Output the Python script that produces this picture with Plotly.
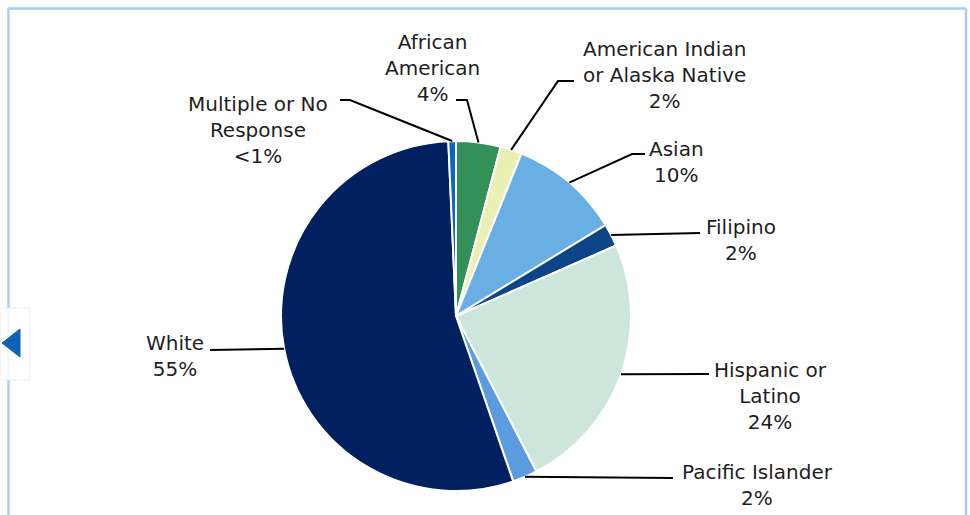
import math
import plotly.graph_objects as go

# ---- data ----
categories = ["African American", "American Indian or Alaska Native", "Asian", "Filipino",
              "Hispanic or Latino", "Pacific Islander", "White", "Multiple or No Response"]
label_text = ["African<br>American", "American Indian<br>or Alaska Native", "Asian", "Filipino",
              "Hispanic or<br>Latino", "Pacific Islander", "White", "Multiple or No<br>Response"]
values = [4.1, 2.0, 10.2, 2.1, 24.0, 2.3, 54.6, 0.7]
colors = ["#339157", "#eaf0b4", "#6aafe3", "#0b4587", "#cce6dc", "#5b9be0", "#002060", "#0a66c2"]

W, H = 970, 515
CX, CY, R = 456, 316, 175

# label layout (pixel positions: text centre, knee point, tail point)
text_pos = [(432, 68), (664, 75), (676, 162), (741, 240), (770, 396), (757, 485), (175, 356), (258, 130)]
knee_pos = [(467, 100), (558, 81), (632, 154), (700, 233), (709, 374), (673, 478), (210, 350), (350, 100)]
tail_pos = [(456, 100), (574, 81), (645, 154), (700, 233), (709, 374), (673, 478), (210, 350), (340, 100)]


def px(x):
    return x / W


def py(y):
    return 1 - y / H


def pct_label(v, total):
    p = v / total * 100
    return "<1%" if p < 1 else f"{round(p)}%"


total = sum(values)

fig = go.Figure()
fig.add_trace(go.Pie(
    labels=categories,
    values=values,
    sort=False,
    direction="clockwise",
    rotation=0,
    marker=dict(colors=colors, line=dict(color="white", width=2)),
    textinfo="none",
    hoverinfo="skip",
    showlegend=False,
    domain=dict(x=[px(CX - R), px(CX + R)], y=[py(CY + R), py(CY - R)]),
))

shapes = []
annotations = []
cum = 0.0
for i, v in enumerate(values):
    mid = (cum + v / 2) / total * 2 * math.pi
    cum += v
    ex = CX + R * math.sin(mid)
    ey = CY - R * math.cos(mid)
    kx, ky = knee_pos[i]
    tx, ty = tail_pos[i]
    path = f"M {px(ex)} {py(ey)} L {px(kx)} {py(ky)} L {px(tx)} {py(ty)}"
    shapes.append(dict(type="path", xref="paper", yref="paper", path=path,
                       line=dict(color="#000000", width=2)))
    cx_, cy_ = text_pos[i]
    annotations.append(dict(
        x=px(cx_), y=py(cy_), xref="paper", yref="paper",
        text=f"{label_text[i]}<br>{pct_label(v, total)}",
        showarrow=False, xanchor="center", yanchor="middle", align="center",
        font=dict(family="DejaVu Sans", size=20, color="#1e1e1e"),
    ))

# frame border
border = "#a4d0ee"
shapes.append(dict(type="line", xref="paper", yref="paper", x0=px(8.5), x1=px(8.5), y0=py(8.5), y1=0,
                   line=dict(color=border, width=2.5)))
shapes.append(dict(type="line", xref="paper", yref="paper", x0=px(8.5), x1=px(966), y0=py(8.5), y1=py(8.5),
                   line=dict(color=border, width=2.5)))
shapes.append(dict(type="line", xref="paper", yref="paper", x0=px(966), x1=px(966), y0=py(8.5), y1=0,
                   line=dict(color=border, width=2.5)))
# navigation arrow widget
shapes.append(dict(type="rect", xref="paper", yref="paper", x0=0, x1=px(30), y0=py(380), y1=py(308),
                   fillcolor="rgba(255,255,255,0.85)", line=dict(color="#e3edf6", width=1)))
shapes.append(dict(type="path", xref="paper", yref="paper",
                   path=f"M {px(2)} {py(343)} L {px(20)} {py(329)} L {px(20)} {py(357)} Z",
                   fillcolor="#0c62b5", line=dict(color="#0c62b5", width=1)))

fig.update_layout(
    width=W, height=H,
    margin=dict(l=0, r=0, t=0, b=0),
    paper_bgcolor="white", plot_bgcolor="white",
    shapes=shapes, annotations=annotations,
)

fig.write_html("out.html", config={"displayModeBar": False, "staticPlot": True},
               post_script="document.body.style.margin='0px';document.body.style.overflow='hidden';")
